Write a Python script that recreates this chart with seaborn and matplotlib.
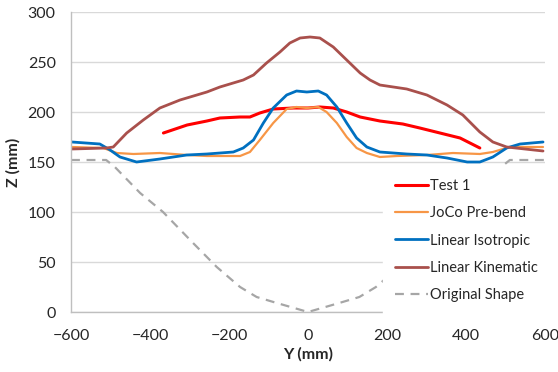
import numpy as np
import pandas as pd
import matplotlib
matplotlib.use("Agg")
import matplotlib.pyplot as plt
import seaborn as sns

# ---- data ----
test1_y = [-366, -306, -256, -223, -172, -147, -122, -88, -37, 0, 30, 64, 98, 132, 182, 240, 283, 334, 385, 435]
test1_z = [179, 187, 191, 194, 195, 195, 199, 203, 204, 204, 205, 204, 200, 195, 191, 188, 184, 179, 174, 164]

joco_y = [-598, -518, -484, -442, -375, -306, -256, -172, -147, -122, -88, -54, -29, -3, 26, 47, 73, 98, 123, 149, 182, 225, 301, 367, 435, 468, 511, 595]
joco_z = [165, 164, 159, 158, 159, 157, 156, 156, 160, 172, 189, 203, 205, 204, 205, 200, 189, 175, 164, 159, 155, 156, 157, 159, 158, 160, 165, 165]

iso_y = [-598, -527, -501, -476, -434, -375, -307, -256, -189, -164, -138, -113, -88, -54, -29, -3, 26, 47, 73, 98, 123, 149, 182, 250, 301, 352, 403, 435, 468, 503, 537, 595]
iso_z = [170, 168, 162, 155, 150, 153, 157, 158, 160, 164, 172, 189, 204, 217, 221, 220, 221, 217, 205, 189, 174, 165, 160, 158, 157, 154, 150, 150, 155, 164, 168, 170]

kin_y = [-598, -510, -493, -459, -417, -375, -324, -256, -223, -164, -138, -105, -71, -46, -20, 5, 30, 64, 98, 132, 157, 182, 250, 301, 352, 392, 435, 468, 503, 595]
kin_z = [163, 164, 165, 179, 192, 204, 212, 220, 225, 232, 237, 249, 260, 269, 274, 275, 274, 265, 252, 239, 232, 227, 223, 217, 207, 197, 180, 170, 165, 161]

orig_y = [-600, -511, -489, -425, -367, -291, -231, -172, -130, -79, 0, 79, 130, 172, 231, 291, 367, 425, 489, 511, 600]
orig_z = [152, 152, 145, 119, 100, 69, 45, 25, 15, 9, 0, 9, 15, 25, 45, 69, 100, 119, 145, 152, 152]

series = [
    ("Test 1", test1_y, test1_z),
    ("JoCo Pre-bend", joco_y, joco_z),
    ("Linear Isotropic", iso_y, iso_z),
    ("Linear Kinematic", kin_y, kin_z),
    ("Original Shape", orig_y, orig_z),
]
x_ticks = [-600, -400, -200, 0, 200, 400, 600]
y_ticks = [0, 50, 100, 150, 200, 250, 300]

frames = []
for name, ys, zs in series:
    frames.append(pd.DataFrame({"Y": ys, "Z": zs, "Series": name}))
df = pd.concat(frames, ignore_index=True)

colors = {
    "Test 1": "#FF0000",
    "JoCo Pre-bend": "#F79646",
    "Linear Isotropic": "#0070C0",
    "Linear Kinematic": "#A9504C",
    "Original Shape": "#A6A6A6",
}
widths = {"Test 1": 2.2, "JoCo Pre-bend": 1.6, "Linear Isotropic": 2.0, "Linear Kinematic": 2.0, "Original Shape": 1.6}

sns.set_style("white")
plt.rcParams["font.family"] = ["Lato", "DejaVu Sans"]

fig = plt.figure(figsize=(5.58, 3.72), dpi=100)
ax = fig.add_axes([71/558, 1 - 312/372, (545-71)/558, 300/372])

for name, ys, zs in series:
    sub = df[df["Series"] == name]
    ls = (0, (4, 3)) if name == "Original Shape" else "-"
    sns.lineplot(data=sub, x="Y", y="Z", sort=False, ax=ax, color=colors[name],
                 linewidth=widths[name], linestyle=ls, label=name, estimator=None)

ax.set_xlim(-600, 600)
ax.set_ylim(0, 300)
ax.set_xticks(x_ticks)
ax.set_yticks(y_ticks)
ax.yaxis.grid(True, color="#D9D9D9", linewidth=1)
ax.set_axisbelow(True)
for s in ["top", "right"]:
    ax.spines[s].set_visible(False)
for s in ["left", "bottom"]:
    ax.spines[s].set_color("#BFBFBF")
    ax.spines[s].set_linewidth(1)
ax.tick_params(axis="both", direction="out", length=4, color="#BFBFBF", labelsize=11.5, labelcolor="#262626")
ax.tick_params(axis="x", pad=8)
ax.tick_params(axis="y", pad=7)
ax.set_xlabel("Y (mm)", fontsize=11.5, fontweight="bold", color="#262626", labelpad=3)
ax.set_ylabel("Z (mm)", fontsize=11.5, fontweight="bold", color="#262626", labelpad=5)

leg = ax.legend(loc="upper left", bbox_to_anchor=(383/558, 1 - 167/372), bbox_transform=fig.transFigure,
                frameon=True, fontsize=10.5, handlelength=2.3, handletextpad=0.1,
                labelspacing=0.92, borderpad=0.8, borderaxespad=0)
leg.get_frame().set_facecolor("white")
leg.get_frame().set_edgecolor("white")
leg.get_frame().set_alpha(1)
leg.get_frame().set_boxstyle("square", pad=0)
for t in leg.get_texts():
    t.set_color("#262626")

fig.savefig("out.png", dpi=100)
